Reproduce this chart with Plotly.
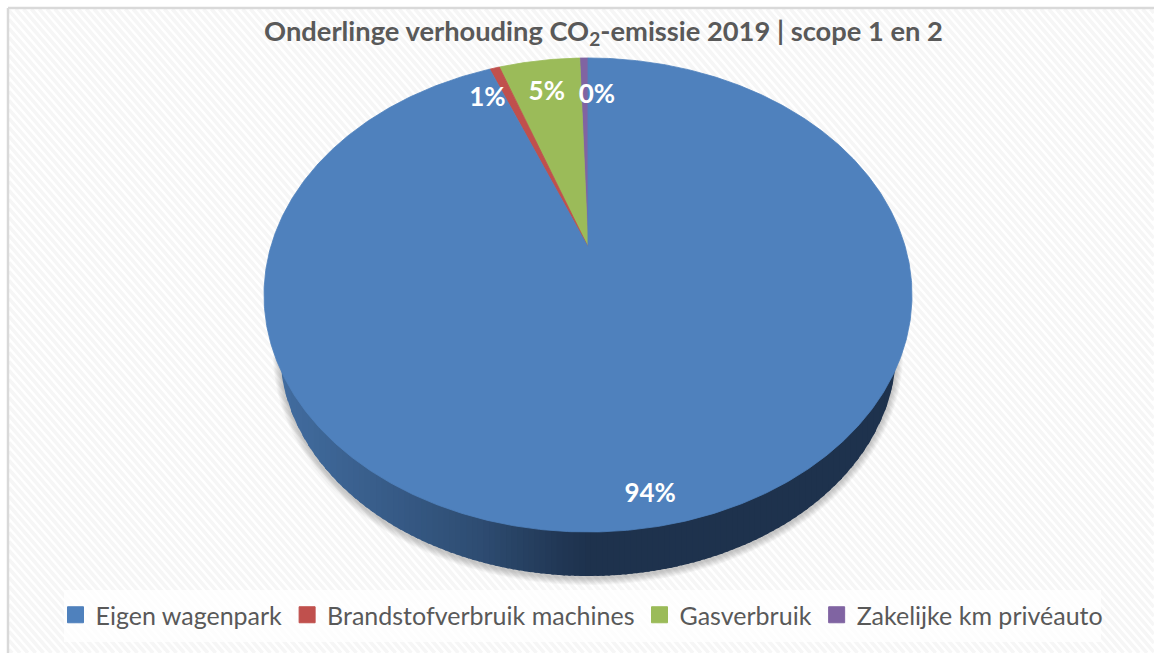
import numpy as np
import plotly.graph_objects as go

# ---- data -------------------------------------------------------------
categories = ["Eigen wagenpark", "Brandstofverbruik machines", "Gasverbruik", "Zakelijke km privéauto"]
values = [94.0, 0.6, 4.9, 0.5]
labels = ["94%", "1%", "5%", "0%"]
colors = ["#4F81BD", "#C0504D", "#9BBB59", "#8064A2"]
title = "Onderlinge verhouding CO<sub>2</sub>-emissie 2019 | scope 1 en 2"

W, H = 1154, 653
GREY = "#595959"

# ---- perspective projection of the pie disc to page pixels -------------
AX, AY, CX, CY, K = 317.3, 227.3, 588.0, 247.0, 0.2025


def project(theta, r=1.0):
    X, Y = r * np.sin(theta), r * np.cos(theta)
    d = 1 + K * Y
    return CX + AX * X / d, CY - AY * Y / d


fractions = np.array(values) / sum(values)

fig = go.Figure()


def poly(xs, ys, color, line=None):
    fig.add_trace(go.Scatter(
        x=xs, y=ys, mode="lines", fill="toself", fillcolor=color,
        line=dict(width=0.8 if line else 0, color=line or color),
        hoverinfo="skip", showlegend=False))


# ---- hatched chart background ------------------------------------------
hx, hy = [], []
for c in np.arange(-1350, 700, 9.0):
    xa = max(9, (9 - c) / 1.15)
    xb = min(W, (H - c) / 1.15)
    if xb > xa:
        hx += [xa, xb, None]
        hy += [1.15 * xa + c, 1.15 * xb + c, None]
fig.add_trace(go.Scatter(x=hx, y=hy, mode="lines", line=dict(color="#f6f6f6", width=3.5),
                         hoverinfo="skip", showlegend=False))

# ---- soft shadow under the pie -----------------------------------------
t = np.linspace(0, 2 * np.pi, 361)
BCX, BCY, BRX, BRY = 588.0, 351.0, 308.0, 225.0
for i in range(8, 0, -1):
    poly(BCX + (BRX + i * 0.9) * np.cos(t), BCY + 2 + (BRY + i * 0.9) * np.sin(t), "rgba(0,0,0,0.028)")

# ---- side wall, shaded along x -----------------------------------------
sx = np.linspace(BCX - BRX, BCX + BRX, 110)
c0, c1 = np.array([66, 109, 160]), np.array([30, 50, 77])
for a, b in zip(sx[:-1], sx[1:]):
    m = 0.5 * (a + b)
    f = np.interp(m, [280, 400, 480, 560, 590], [0, 0.32, 0.55, 0.9, 1.0])
    col = "rgb(%d,%d,%d)" % tuple((c0 + (c1 - c0) * f).astype(int))
    end = min(b + 2.5, BCX + BRX)
    xs = np.linspace(a, end, 5)
    ys = BCY + BRY * np.sqrt(np.clip(1 - ((xs - BCX) / BRX) ** 2, 0, 1))
    poly(list(xs) + [end, a], list(ys) + [BCY - 10, BCY - 10], col)

# ---- top face slices: clockwise from 12 o'clock, last category next to it
pos = 0.0
mids = {}
for i in [3, 2, 1, 0]:
    th = np.linspace(pos, pos - fractions[i] * 2 * np.pi, max(3, int(fractions[i] * 720)))
    px, py = project(th)
    poly([CX] + list(px) + [CX], [CY] + list(py) + [CY], colors[i], line=colors[i])
    mids[i] = pos - fractions[i] * np.pi
    pos -= fractions[i] * 2 * np.pi

# ---- data labels --------------------------------------------------------
nudges = {0: (-3, 4), 1: (-11, 24), 2: (0, 4), 3: (12, -8)}
radii = {0: 0.9, 1: 0.95, 2: 0.82, 3: 0.72}
lx, ly = [], []
for i in range(4):
    x, y = project(mids[i], radii[i])
    lx.append(x + nudges[i][0])
    ly.append(y + nudges[i][1])
fig.add_trace(go.Scatter(x=lx, y=ly, mode="text", text=labels, textposition="middle center",
                         textfont=dict(family="Lato", size=26, color="white", weight="bold"),
                         hoverinfo="skip", showlegend=False))

# ---- legend entries -----------------------------------------------------
for name, col in zip(categories, colors):
    fig.add_trace(go.Scatter(x=[None], y=[None], mode="markers", name=name,
                             marker=dict(symbol="square", size=16, color=col,
                                         line=dict(width=1, color=col))))

fig.update_layout(
    width=W, height=H, margin=dict(l=0, r=0, t=0, b=0),
    paper_bgcolor="white", plot_bgcolor="white",
    xaxis=dict(range=[0, W], visible=False, fixedrange=True),
    yaxis=dict(range=[H, 0], visible=False, fixedrange=True),
    title=dict(text=title, x=603.5 / W, xanchor="center", xref="paper",
               y=1 - 31 / H, yanchor="middle", yref="paper",
               font=dict(family="Lato", size=27.3, color=GREY, weight="bold")),
    legend=dict(orientation="h", x=582 / W, xanchor="center", y=1 - 615 / H, yanchor="middle",
                bgcolor="rgba(0,0,0,0)", font=dict(family="Lato", size=25, color=GREY),
                itemwidth=30, tracegroupgap=0),
    shapes=[
        dict(type="rect", xref="x", yref="y", x0=64, x1=1101, y0=590, y1=642, layer="above",
             fillcolor="rgba(255,255,255,0.75)", line=dict(width=0)),
        dict(type="line", xref="x", yref="y", x0=8, x1=W, y0=8, y1=8, layer="above",
             line=dict(color="#d9d9d9", width=2.5)),
        dict(type="line", xref="x", yref="y", x0=8, x1=8, y0=8, y1=H, layer="above",
             line=dict(color="#d9d9d9", width=2.5)),
    ],
)

fig.write_html("out.html", config={"displayModeBar": False},
               post_script="document.body.style.margin='0';")
